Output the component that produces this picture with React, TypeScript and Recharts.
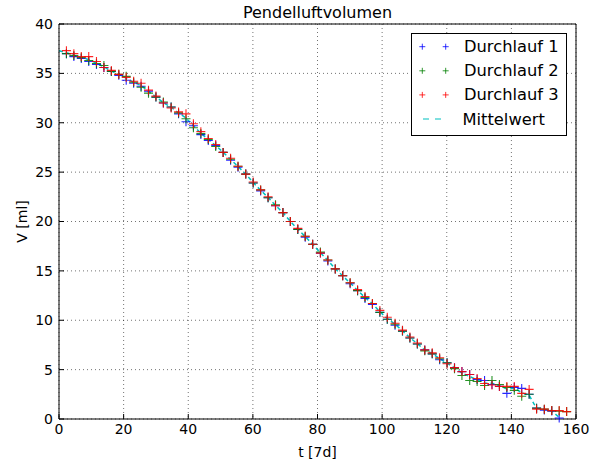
import { LineChart, Line, XAxis, YAxis, CartesianGrid, Legend } from 'recharts';

const FONT = '"DejaVu Sans", sans-serif';

// t [7d]
const t = [
  0, 2.3, 4.6, 6.9, 9.2, 11.6, 13.9, 16.2, 18.5, 20.8, 23.1, 25.4, 27.7, 30.0, 32.3, 34.7, 37.0,
  39.3, 41.6, 43.9, 46.2, 48.5, 50.8, 53.1, 55.4, 57.8, 60.1, 62.4, 64.7, 67.0, 69.3, 71.6, 73.9,
  76.2, 78.5, 80.9, 83.2, 85.5, 87.8, 90.1, 92.4, 94.7, 97.0, 99.3, 101.6, 104.0, 106.3, 108.6,
  110.9, 113.2, 115.5, 117.8, 120.1, 122.4, 124.7, 127.1, 129.4, 131.7, 134.0, 136.3, 138.6,
  140.9, 143.2, 145.5, 147.8, 150.2, 152.5, 154.8, 157.1,
];

const durchlauf1 = [
  null, 37.0, 36.7, 36.5, 36.2, 35.9, 35.6, 35.2, 34.8, 34.3, 34.0, 33.7, 33.2, 32.6, 32.0, 31.6,
  30.9, 30.1, 29.7, 28.8, 28.2, 27.7, 27.0, 26.2, 25.5, 24.8, 23.9, 23.1, 22.4, 21.6, 20.9, 20.0,
  19.2, 18.4, 17.7, 16.8, 16.0, 15.2, 14.5, 13.7, 13.0, 12.2, 11.6, 10.8, 10.1, 9.5, 8.9, 8.2,
  7.6, 7.0, 6.6, 6.0, 5.7, 5.2, 4.8, 4.5, 4.0, 3.9, 3.5, 3.3, 2.6, 3.2, 3.1, 2.5, 1.1, 0.9, 0.8,
  0.1, null,
];

const durchlauf2 = [
  null, 37.0, 36.8, 36.6, 36.3, 36.0, 35.8, 35.2, 34.9, 34.7, 34.1, 33.6, 33.0, 32.6, 32.1, 31.6,
  31.0, 30.4, 29.5, 28.9, 28.3, 27.6, 27.0, 26.3, 25.6, 24.8, 23.9, 23.2, 22.4, 21.7, 20.9, 20.0,
  19.2, 18.5, 17.7, 16.9, 16.1, 15.2, 14.5, 13.8, 13.0, 12.3, 11.7, 10.8, 10.1, 9.6, 8.9, 8.2,
  7.6, 6.9, 6.6, 6.1, 5.7, 5.1, 4.4, 3.9, 3.8, 3.4, 3.9, 3.5, 3.2, 2.9, 2.3, 2.5, 1.1, 1.0, 0.85,
  0.8, 0.75,
];

const durchlauf3 = [
  null, 37.3, 37.0, 36.7, 36.7, 36.2, 35.6, 35.3, 34.9, 34.6, 34.2, 34.0, 33.3, 32.7, 32.0, 31.5,
  31.1, 30.9, 29.9, 29.1, 28.4, 27.8, 27.0, 26.4, 25.6, 24.8, 24.0, 23.2, 22.5, 21.6, 20.9, 20.0,
  19.3, 18.5, 17.7, 16.8, 16.1, 15.2, 14.5, 13.8, 13.1, 12.4, 11.7, 11.0, 10.3, 9.7, 9.0, 8.3,
  7.7, 7.0, 6.7, 6.2, 5.6, 5.2, 4.8, 4.5, 4.1, 3.6, 3.45, 3.3, 3.3, 3.3, 2.6, 3.0, 1.0, 1.0, 0.85,
  0.85, 0.75,
];

const mittelwert = [
  37.3, 37.1, 36.83, 36.6, 36.4, 36.03, 35.67, 35.23, 34.87, 34.53, 34.1, 33.77, 33.17, 32.63,
  32.03, 31.57, 31.0, 30.47, 29.7, 28.93, 28.3, 27.7, 27.0, 26.3, 25.57, 24.8, 23.93, 23.17,
  22.43, 21.63, 20.9, 20.0, 19.23, 18.47, 17.7, 16.83, 16.07, 15.2, 14.5, 13.77, 13.03, 12.3,
  11.67, 10.87, 10.17, 9.6, 8.93, 8.23, 7.63, 6.97, 6.63, 6.1, 5.67, 5.17, 4.67, 4.3, 3.97, 3.63,
  3.62, 3.37, 3.03, 3.13, 2.67, 2.4, 1.07, 0.97, 0.83, 0.15, null,
];

const xTicks = [0, 20, 40, 60, 80, 100, 120, 140, 160];
const yTicks = [0, 5, 10, 15, 20, 25, 30, 35, 40];

const series = [
  { key: 'd1', name: 'Durchlauf 1', color: '#0000ff', kind: 'plus' },
  { key: 'd2', name: 'Durchlauf 2', color: '#008000', kind: 'plus' },
  { key: 'd3', name: 'Durchlauf 3', color: '#ff0000', kind: 'plus' },
  { key: 'm', name: 'Mittelwert', color: '#00bfbf', kind: 'dash' },
];

const rows = t.map((tv, i) => ({
  t: tv,
  d1: durchlauf1[i],
  d2: durchlauf2[i],
  d3: durchlauf3[i],
  m: mittelwert[i],
}));

const plusDot = (color: string) => (props: any) => {
  const { cx, cy, value, index } = props;
  if (value == null || cx == null || cy == null || Number.isNaN(cy)) return <g key={`p-${index}`} />;
  const r = 4.5;
  return (
    <path
      key={`p-${index}`}
      d={`M${cx - r},${cy}H${cx + r}M${cx},${cy - r}V${cy + r}`}
      stroke={color}
      strokeWidth={1.1}
      strokeOpacity={0.85}
      fill="none"
    />
  );
};

const LegendBox = () => (
  <svg width={156} height={103} style={{ display: 'block' }}>
    <rect x={0.5} y={0.5} width={155} height={102} fill="#fff" stroke="#000" strokeWidth={1} />
    {series.map((s, i) => {
      const y = 13.7 + i * 24.1;
      return (
        <g key={s.key}>
          {s.kind === 'plus' ? (
            [11.3, 34.7].map((x) => (
              <path
                key={x}
                d={`M${x - 3},${y}H${x + 3}M${x},${y - 3}V${y + 3}`}
                stroke={s.color}
                strokeWidth={1}
                strokeOpacity={0.8}
              />
            ))
          ) : (
            <line x1={12} x2={32} y1={y} y2={y} stroke={s.color} strokeWidth={1.2} strokeDasharray="6 6" />
          )}
          <text
            x={s.kind === 'plus' ? 53 : 51.5}
            y={y}
            dominantBaseline="central"
            fontFamily={FONT}
            fontSize={16.3}
            fill="#000"
          >
            {s.name}
          </text>
        </g>
      );
    })}
  </svg>
);

const tickStyle = { fill: '#000', fontSize: 14, fontFamily: FONT };

export default function App() {
  return (
    <div style={{ position: 'absolute', left: 0, top: 0, width: 595, height: 461, background: '#fff' }}>
      <LineChart width={595} height={461} data={rows} margin={{ top: 23, right: 18, bottom: 0, left: 0 }}>
        <CartesianGrid stroke="#000" strokeOpacity={0.55} strokeDasharray="1 3" />
        <XAxis
          type="number"
          dataKey="t"
          domain={[0, 160]}
          ticks={xTicks}
          interval={0}
          height={42}
          tickSize={-5}
          tickMargin={10}
          axisLine={{ stroke: '#000' }}
          tickLine={{ stroke: '#000' }}
          tick={tickStyle}
          label={{ value: 't [7d]', position: 'insideBottom', offset: 4, fill: '#000', fontSize: 14, fontFamily: FONT }}
        />
        <XAxis
          xAxisId="top"
          orientation="top"
          type="number"
          dataKey="t"
          domain={[0, 160]}
          ticks={xTicks}
          interval={0}
          height={1}
          tickSize={-5}
          tick={false}
          axisLine={{ stroke: '#000' }}
          tickLine={{ stroke: '#000' }}
          label={{ value: 'Pendelluftvolumen', position: 'top', offset: 5, fill: '#000', fontSize: 16, fontFamily: FONT }}
        />
        <YAxis
          type="number"
          domain={[0, 40]}
          ticks={yTicks}
          interval={0}
          width={59}
          tickSize={-5}
          tickMargin={11}
          axisLine={{ stroke: '#000' }}
          tickLine={{ stroke: '#000' }}
          tick={tickStyle}
          label={{
            value: 'V [ml]',
            angle: -90,
            position: 'insideLeft',
            offset: 22,
            fill: '#000',
            fontSize: 14,
            fontFamily: FONT,
            style: { textAnchor: 'middle' },
          }}
        />
        <YAxis
          yAxisId="right"
          orientation="right"
          type="number"
          domain={[0, 40]}
          ticks={yTicks}
          interval={0}
          width={1}
          tickSize={-5}
          tick={false}
          axisLine={{ stroke: '#000' }}
          tickLine={{ stroke: '#000' }}
        />
        {series
          .filter((s) => s.kind === 'plus')
          .map((s) => (
            <Line
              key={s.key}
              dataKey={s.key}
              name={s.name}
              stroke="none"
              dot={plusDot(s.color)}
              activeDot={false}
              isAnimationActive={false}
            />
          ))}
        <Line
          dataKey="m"
          name="Mittelwert"
          type="linear"
          stroke="#00bfbf"
          strokeWidth={1.5}
          strokeDasharray="4 3"
          dot={false}
          activeDot={false}
          isAnimationActive={false}
        />
        <Legend
          layout="vertical"
          align="center"
          verticalAlign="middle"
          content={() => <LegendBox />}
          wrapperStyle={{ left: 411, top: 33, width: 156, height: 103 }}
        />
      </LineChart>
    </div>
  );
}
